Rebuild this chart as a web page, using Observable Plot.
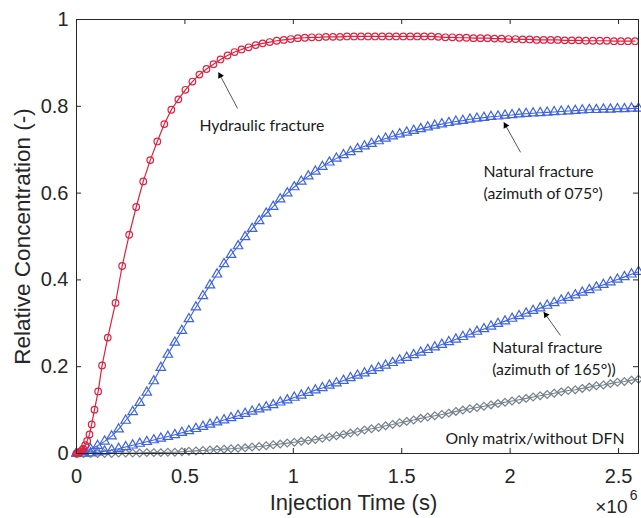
<!DOCTYPE html>
<html>
<head>
<meta charset="utf-8">
<script src="https://cdn.jsdelivr.net/npm/d3@7"></script>
<script src="https://cdn.jsdelivr.net/npm/@observablehq/plot@0.6"></script>
<style>
  html, body { margin: 0; padding: 0; background: #fff; }
  #chart { width: 641px; height: 518px; }
</style>
</head>
<body>
<div id="chart"></div>
<script>
// ---- Data (time in units of 10^6 s, concentration dimensionless) ----
const xTicks = [0, 0.5, 1, 1.5, 2, 2.5];
const yTicks = [0, 0.2, 0.4, 0.6, 0.8, 1];

const timeHF = [0, 0.004, 0.008, 0.012, 0.016, 0.021, 0.026, 0.031, 0.040, 0.049, 0.060, 0.070, 0.083, 0.100, 0.118, 0.144, 0.180,
  0.2106, 0.2430, 0.2754, 0.3078, 0.3402, 0.3726, 0.4050, 0.4374, 0.4698, 0.5022, 0.5346, 0.5670, 0.5994, 0.6318, 0.6642, 0.6966,
  0.7290, 0.7614, 0.7938, 0.8262, 0.8586, 0.8910, 0.9234, 0.9558, 0.9882, 1.0206, 1.0530, 1.0854, 1.1178, 1.1502, 1.1826, 1.2150,
  1.2474, 1.2798, 1.3122, 1.3446, 1.3770, 1.4094, 1.4418, 1.4742, 1.5066, 1.5390, 1.5714, 1.6038, 1.6362, 1.6686, 1.7010, 1.7334,
  1.7658, 1.7982, 1.8306, 1.8630, 1.8954, 1.9278, 1.9602, 1.9926, 2.0250, 2.0574, 2.0898, 2.1222, 2.1546, 2.1870, 2.2194, 2.2518,
  2.2842, 2.3166, 2.3490, 2.3814, 2.4138, 2.4462, 2.4786, 2.5110, 2.5434, 2.5758];
const concHF = [0, 0.000, 0.001, 0.002, 0.003, 0.005, 0.008, 0.011, 0.019, 0.029, 0.044, 0.067, 0.101, 0.143, 0.203, 0.267, 0.347,
  0.432, 0.504, 0.568, 0.627, 0.676, 0.719, 0.759, 0.792, 0.816, 0.838, 0.857, 0.873, 0.886, 0.897, 0.908, 0.917,
  0.925, 0.931, 0.936, 0.941, 0.945, 0.948, 0.951, 0.953, 0.955, 0.957, 0.958, 0.959, 0.959, 0.960, 0.960, 0.960,
  0.961, 0.961, 0.961, 0.961, 0.961, 0.961, 0.961, 0.961, 0.961, 0.961, 0.961, 0.961, 0.961, 0.960, 0.959, 0.959,
  0.958, 0.958, 0.957, 0.957, 0.957, 0.956, 0.956, 0.955, 0.955, 0.954, 0.954, 0.953, 0.953, 0.953, 0.953, 0.952,
  0.952, 0.952, 0.951, 0.951, 0.951, 0.951, 0.950, 0.950, 0.950, 0.950];

const timeGrid = [0, 0.0324, 0.0648, 0.0972, 0.1296, 0.1620, 0.1944, 0.2268, 0.2592, 0.2916, 0.3240, 0.3564, 0.3888, 0.4212,
  0.4536, 0.4860, 0.5184, 0.5508, 0.5832, 0.6156, 0.6480, 0.6804, 0.7128, 0.7452, 0.7776, 0.8100, 0.8424, 0.8748, 0.9072,
  0.9396, 0.9720, 1.0044, 1.0368, 1.0692, 1.1016, 1.1340, 1.1664, 1.1988, 1.2312, 1.2636, 1.2960, 1.3284, 1.3608, 1.3932,
  1.4256, 1.4580, 1.4904, 1.5228, 1.5552, 1.5876, 1.6200, 1.6524, 1.6848, 1.7172, 1.7496, 1.7820, 1.8144, 1.8468, 1.8792,
  1.9116, 1.9440, 1.9764, 2.0088, 2.0412, 2.0736, 2.1060, 2.1384, 2.1708, 2.2032, 2.2356, 2.2680, 2.3004, 2.3328, 2.3652,
  2.3976, 2.4300, 2.4624, 2.4948, 2.5272, 2.5596, 2.5920];

const concNF075 = [0, 0.004, 0.010, 0.018, 0.028, 0.040, 0.056, 0.076, 0.096, 0.117, 0.141, 0.167, 0.198, 0.228,
  0.256, 0.283, 0.310, 0.337, 0.363, 0.388, 0.413, 0.437, 0.458, 0.478, 0.499, 0.518, 0.536, 0.553, 0.569,
  0.586, 0.600, 0.614, 0.627, 0.639, 0.650, 0.661, 0.671, 0.680, 0.688, 0.695, 0.702, 0.708, 0.714, 0.720,
  0.726, 0.731, 0.736, 0.740, 0.744, 0.748, 0.752, 0.756, 0.759, 0.762, 0.765, 0.767, 0.770, 0.772, 0.774,
  0.776, 0.777, 0.779, 0.780, 0.782, 0.783, 0.784, 0.785, 0.786, 0.787, 0.788, 0.789, 0.790, 0.791, 0.792,
  0.792, 0.793, 0.793, 0.794, 0.794, 0.795, 0.795];

const concNF165 = [0, 0.000, 0.001, 0.003, 0.005, 0.008, 0.011, 0.015, 0.019, 0.023, 0.027, 0.031, 0.035, 0.039,
  0.043, 0.048, 0.052, 0.057, 0.062, 0.067, 0.072, 0.077, 0.082, 0.087, 0.092, 0.097, 0.102, 0.107, 0.112,
  0.118, 0.123, 0.129, 0.134, 0.140, 0.146, 0.151, 0.157, 0.162, 0.168, 0.174, 0.180, 0.185, 0.191, 0.197,
  0.203, 0.209, 0.215, 0.221, 0.227, 0.233, 0.239, 0.245, 0.251, 0.257, 0.263, 0.269, 0.275, 0.281, 0.287,
  0.293, 0.299, 0.305, 0.311, 0.317, 0.323, 0.329, 0.335, 0.341, 0.347, 0.353, 0.359, 0.365, 0.371, 0.377,
  0.383, 0.389, 0.395, 0.401, 0.407, 0.413, 0.419];

const concMatrix = [0, 0.000, 0.000, 0.000, 0.000, 0.000, 0.001, 0.001, 0.001, 0.001, 0.002, 0.002, 0.002, 0.003,
  0.003, 0.004, 0.005, 0.006, 0.007, 0.008, 0.009, 0.010, 0.011, 0.012, 0.013, 0.015, 0.016, 0.018, 0.020,
  0.022, 0.024, 0.026, 0.028, 0.030, 0.032, 0.035, 0.038, 0.041, 0.044, 0.047, 0.050, 0.054, 0.057, 0.060,
  0.064, 0.067, 0.071, 0.074, 0.077, 0.081, 0.084, 0.087, 0.090, 0.093, 0.097, 0.100, 0.103, 0.106, 0.109,
  0.112, 0.115, 0.118, 0.121, 0.124, 0.127, 0.130, 0.133, 0.136, 0.139, 0.142, 0.145, 0.147, 0.150, 0.153,
  0.156, 0.158, 0.161, 0.164, 0.166, 0.169, 0.171];

const labelTexts = ["Hydraulic fracture", "Natural fracture\n(azimuth of 075°)", "Natural fracture\n(azimuth of 165°))", "Only matrix/without DFN"];
const labelX = [0.567, 1.877, 1.917, 1.702];
const labelY = [0.760, 0.629, 0.2235, 0.039];
const arrowTail = [[0.743, 0.795], [2.048, 0.694], [2.232, 0.272]];
const arrowTip = [[0.655, 0.878], [1.971, 0.763], [2.155, 0.326]];

// ---- Layout ----
const W = 641, H = 518, ML = 76, MR = 3, MT = 19, MB = 65;
const xMax = 2.592;
const kx = (W - ML - MR) / xMax, ky = (H - MT - MB);
const frameColor = "#262626";
const red = "#E0213F", blue = "#3E63E0", gray = "#75818B";

const rows = (t, c) => t.map((d, i) => ({t: d, c: c[i]}));
const hf = rows(timeHF, concHF);
const nf075 = rows(timeGrid, concNF075);
const nf165 = rows(timeGrid, concNF165);
const mat = rows(timeGrid, concMatrix);
const labels = labelTexts.map((s, i) => ({s, x: labelX[i], y: labelY[i]}));
const arrows = arrowTail.map((a, i) => ({x1: a[0], y1: a[1], x2: arrowTip[i][0], y2: arrowTip[i][1]}));

const arrowHeads = arrows.map(a => {
  const dxp = (a.x2 - a.x1) * kx, dyp = -(a.y2 - a.y1) * ky;
  const th = Math.atan2(dxp, -dyp);
  const back = 3.6;
  return Plot.dot([a], {x: "x2", y: "y2", symbol: "triangle", r: 2.4, fill: "#000", stroke: "none",
    rotate: th * 180 / Math.PI, dx: -Math.sin(th) * back, dy: Math.cos(th) * back});
});

const fmt = d => d3.format("~g")(d);
const annFont = "Lato, 'Open Sans', sans-serif";

const chart = Plot.plot({
  width: W, height: H,
  marginLeft: ML, marginRight: MR, marginTop: MT, marginBottom: MB,
  style: {fontFamily: "'Liberation Sans', Arial, sans-serif", background: "#fff", color: frameColor, overflow: "visible"},
  x: {domain: [0, xMax]},
  y: {domain: [0, 1]},
  marks: [
    // series
    Plot.line(mat, {x: "t", y: "c", stroke: gray, strokeWidth: 1.1}),
    Plot.dot(mat, {x: "t", y: "c", symbol: "diamond2", r: 3.5, stroke: gray, fill: "none", strokeWidth: 1.2}),
    Plot.line(nf165, {x: "t", y: "c", stroke: blue, strokeWidth: 1.1}),
    Plot.dot(nf165, {x: "t", y: "c", symbol: "triangle", r: 3.5, stroke: blue, fill: "none", strokeWidth: 1.2}),
    Plot.line(nf075, {x: "t", y: "c", stroke: blue, strokeWidth: 1.1}),
    Plot.dot(nf075, {x: "t", y: "c", symbol: "triangle", r: 3.5, stroke: blue, fill: "none", strokeWidth: 1.2}),
    Plot.line(hf, {x: "t", y: "c", stroke: red, strokeWidth: 1.2}),
    Plot.dot(hf, {x: "t", y: "c", symbol: "circle", r: 3.3, stroke: red, fill: "none", strokeWidth: 1.2}),
    // frame and inner ticks
    Plot.frame({stroke: frameColor, strokeWidth: 1}),
    Plot.tickX(xTicks, {x: d => d, insetTop: H - MT - MB - 5, stroke: frameColor}),
    Plot.tickX(xTicks, {x: d => d, insetBottom: H - MT - MB - 5, stroke: frameColor}),
    Plot.tickY(yTicks, {y: d => d, insetRight: W - ML - MR - 5, stroke: frameColor}),
    Plot.tickY(yTicks, {y: d => d, insetLeft: W - ML - MR - 5, stroke: frameColor}),
    // tick labels
    Plot.axisX(xTicks, {tickSize: 0, tickPadding: 15, fontSize: 20, tickFormat: fmt, label: null}),
    Plot.axisY(yTicks, {tickSize: 0, tickPadding: 8, fontSize: 20, tickFormat: fmt, label: null}),
    // axis titles
    Plot.text(["Relative Concentration (-)"], {frameAnchor: "left", textAnchor: "middle", rotate: -90, dx: -54, fontSize: 22.5, lineAnchor: "middle", fill: "#262626"}),
    Plot.text(["Injection Time (s)"], {frameAnchor: "bottom", textAnchor: "middle", dy: 49, dx: -4, fontSize: 22, lineAnchor: "middle", fill: "#262626"}),
    Plot.text(["\u00d710"], {frameAnchor: "bottom-right", textAnchor: "end", dx: -11, dy: 53, fontSize: 19, lineAnchor: "middle", fill: "#262626"}),
    Plot.text(["6"], {frameAnchor: "bottom-right", textAnchor: "end", dx: -1, dy: 42, fontSize: 14, lineAnchor: "middle", fill: "#262626"}),
    // annotations
    Plot.link(arrows, {x1: "x1", y1: "y1", x2: "x2", y2: "y2", stroke: "#555", strokeWidth: 1}),
    ...arrowHeads,
    Plot.text(labels, {x: "x", y: "y", text: "s", textAnchor: "start", lineAnchor: "middle", lineHeight: 1.4,
      fontSize: 15.8, fontFamily: annFont, fill: "#1a1a1a"})
  ]
});
document.getElementById("chart").appendChild(chart);
</script>
</body>
</html>
